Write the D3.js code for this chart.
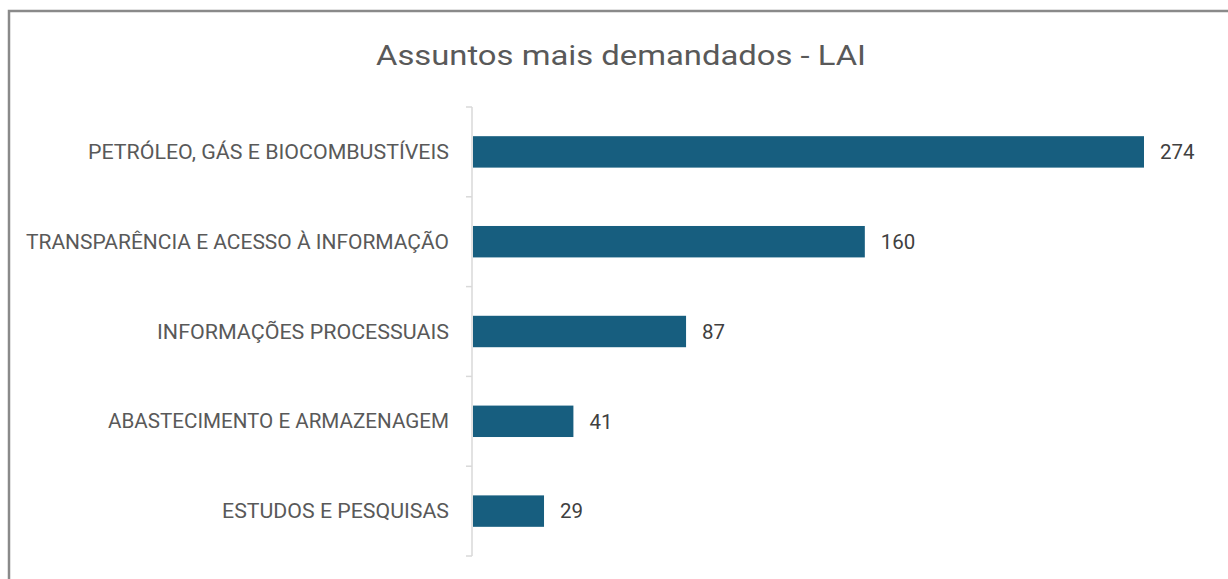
<!DOCTYPE html>
<html><head><meta charset="utf-8">
<script src="https://cdn.jsdelivr.net/npm/d3@7"></script>
<style>
html,body{margin:0;padding:0;background:#fff;}
svg{display:block;}
</style></head>
<body>
<svg id="chart" width="1228" height="579"></svg>
<script>
const title = "Assuntos mais demandados - LAI";
const categories = [
  "PETRÓLEO, GÁS E BIOCOMBUSTÍVEIS",
  "TRANSPARÊNCIA E ACESSO À INFORMAÇÃO",
  "INFORMAÇÕES PROCESSUAIS",
  "ABASTECIMENTO E ARMAZENAGEM",
  "ESTUDOS E PESQUISAS"
];
const values = [274, 160, 87, 41, 29];
const labelWidths = [361, 423, 292, 341, 227];

const svg = d3.select("#chart");
svg.append("rect").attr("x",0).attr("y",0).attr("width",1228).attr("height",579).attr("fill","#fff");
// outer border
svg.append("path").attr("d","M9,590 L9,11 L1240,11").attr("fill","none")
  .attr("stroke","#8a8a8a").attr("stroke-width",2.5);

const x = d3.scaleLinear().domain([0, 274]).range([473, 1144]);
const y = d3.scaleBand().domain(categories).range([107, 556]).paddingInner(0.65).paddingOuter(0.325);

// title
svg.append("text").attr("x",621).attr("y",65).attr("text-anchor","middle")
  .attr("font-family","Roboto, 'Open Sans', sans-serif").attr("font-size",28)
  .attr("fill","#595959").attr("textLength",490).attr("lengthAdjust","spacingAndGlyphs")
  .text(title);

// bars
svg.selectAll("rect.bar").data(values).join("rect").attr("class","bar")
  .attr("x", x(0)).attr("y",(d,i)=>y(categories[i]))
  .attr("width", d=>x(d)-x(0)).attr("height", y.bandwidth())
  .attr("fill","#175e7f");

// value labels
svg.selectAll("text.val").data(values).join("text").attr("class","val")
  .attr("x", d=>x(d)+16).attr("y",(d,i)=>y(categories[i])+y.bandwidth()/2)
  .attr("dy","0.36em").attr("font-family","Roboto, sans-serif").attr("font-size",20.5)
  .attr("fill","#404040").text(d=>d);

// category axis labels
const ax = svg.append("g").attr("transform","translate(472,0)")
  .call(d3.axisLeft(y).tickSize(0).tickPadding(23));
ax.select(".domain").remove();
ax.selectAll("text").attr("font-family","Roboto, 'Liberation Sans Narrow', sans-serif")
  .attr("font-size",19.5).attr("fill","#595959").attr("dy","0.36em")
  .attr("textLength",(d,i)=>labelWidths[i]).attr("lengthAdjust","spacingAndGlyphs");

// axis line and boundary ticks
const r = y.range();
svg.append("line").attr("x1",472).attr("x2",472).attr("y1",r[0]).attr("y2",r[1])
  .attr("stroke","#d9d9d9").attr("stroke-width",1.5);
svg.selectAll("line.tick").data(d3.range(categories.length+1)).join("line").attr("class","tick")
  .attr("x1",466).attr("x2",472)
  .attr("y1",i=>r[0]+i*y.step()).attr("y2",i=>r[0]+i*y.step())
  .attr("stroke","#d9d9d9").attr("stroke-width",1.5);
</script>
</body></html>
